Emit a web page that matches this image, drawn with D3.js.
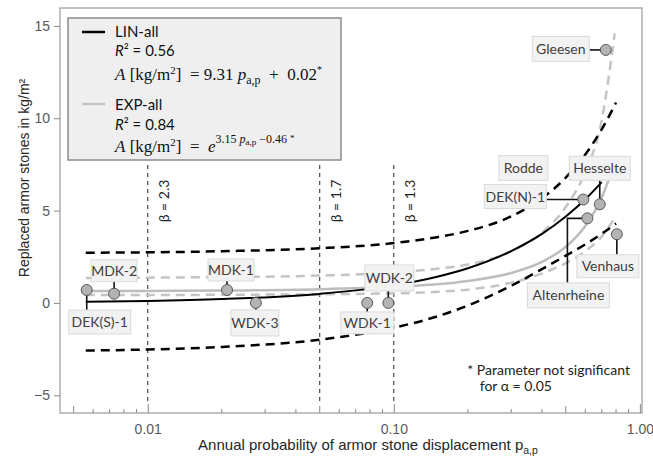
<!DOCTYPE html>
<html>
<head>
<meta charset="utf-8">
<script src="https://cdn.jsdelivr.net/npm/d3@7"></script>
<style>
body{margin:0;background:#fff;}
svg{display:block;}
</style>
</head>
<body>
<svg width="653" height="458"></svg>
<script>
// measured sites
var sites=["DEK(S)-1","MDK-2","MDK-1","WDK-3","WDK-1","WDK-2","DEK(N)-1","Hesselte","Altenrheine","Venhaus","Gleesen"];
var siteP=[0.00565,0.0073,0.021,0.0275,0.078,0.095,0.589,0.687,0.612,0.806,0.727];
var siteA=[0.7,0.5,0.7,0.0,0.0,0.0,5.6,5.34,4.58,3.72,13.7];

// fit curves
var linP=[0.0056,0.01,0.02,0.05,0.1,0.15,0.2,0.3,0.4,0.5,0.6,0.7];
var linA=[0.07,0.11,0.21,0.49,0.95,1.42,1.88,2.81,3.74,4.68,5.61,6.54];
var expP=[0.0056,0.01,0.02,0.05,0.1,0.15,0.2,0.3,0.4,0.5,0.6,0.7,0.8];
var expA=[0.64,0.65,0.67,0.74,0.87,1.01,1.19,1.62,2.22,3.04,4.17,5.71,7.82];
var linBandP=[0.0056,0.01,0.02,0.05,0.1,0.15,0.2,0.3,0.4,0.5,0.6,0.7,0.8];
var linUpper=[2.72,2.74,2.80,2.96,3.24,3.56,3.90,4.69,5.66,6.79,8.04,9.4,10.85];
var linLower=[-2.58,-2.52,-2.38,-1.99,-1.34,-0.73,-0.14,0.93,1.83,2.56,3.17,3.75,4.3];
var expBandP=[0.0056,0.01,0.02,0.05,0.1,0.15,0.2,0.3,0.4,0.5,0.6,0.7,0.79];
var expUpper=[1.35,1.37,1.40,1.48,1.65,1.85,2.08,2.8,3.8,5.2,7.1,9.9,14.6];
var expLower=[0.43,0.43,0.44,0.47,0.52,0.6,0.72,1.1,1.6,2.15,2.8,3.6,4.6];

var betaP=[0.01,0.05,0.1];
var betaLabels=["β = 2.3","β = 1.7","β = 1.3"];

var xMajor=[0.01,0.1,1];
var xMajorLabels=["0.01","0.10","1.00"];
var yTicks=[-5,0,5,10,15];

// label placement: box centre offset from point, box size, leader type
var labelLayout={
  "DEK(S)-1":{dx:13,dy:32,w:62,h:24,lead:"v"},
  "MDK-2":{dx:0,dy:-23,w:46,h:22,lead:"v"},
  "MDK-1":{dx:4,dy:-20,w:46,h:22,lead:"v"},
  "WDK-3":{dx:-1,dy:20,w:48,h:26,lead:"v"},
  "WDK-1":{dx:0,dy:20,w:53,h:22,lead:"v"},
  "WDK-2":{dx:1,dy:-25,w:49,h:26,lead:"v"},
  "DEK(N)-1":{dx:-68,dy:-3,w:62,h:24,lead:"h"},
  "Hesselte":{dx:0,dy:-36,w:61,h:24,lead:"v"},
  "Altenrheine":{dx:-19,dy:77,w:82,h:25,lead:"elbow"},
  "Venhaus":{dx:-9,dy:32,w:62,h:23,lead:"v"},
  "Gleesen":{dx:-45,dy:-1,w:57,h:25,lead:"h"}
};

var svg=d3.select('svg');
var mL=60,mR=642,mT=8,mB=413;

var x=d3.scaleLog().domain([0.0044,1.02]).range([mL,mR]);
var y=d3.scaleLinear().domain([-5.96,15.97]).range([mB,mT]);

var sans="'Liberation Sans',Arial,sans-serif";
var lab="Lato,'Open Sans',sans-serif";
var serif="'Liberation Serif','Times New Roman',serif";

// beta lines
betaP.forEach(function(p,i){
  svg.append('line')
    .attr('x1',x(p)).attr('x2',x(p))
    .attr('y1',165).attr('y2',402)
    .attr('stroke','#222').attr('stroke-width',1)
    .attr('stroke-dasharray','4,4');
  svg.append('text')
    .attr('transform','translate('+(x(p)+21)+',201) rotate(-90)')
    .attr('text-anchor','middle')
    .style('font-family',lab).style('font-size','14px').attr('fill','#222')
    .text(betaLabels[i]);
});

function curve(ps,as){
  return d3.line()
    .x(function(d,i){return x(ps[i]);})
    .y(function(d,i){return y(as[i]);})
    .curve(d3.curveMonotoneX)(as);
}

svg.append('path').attr('d',curve(expBandP,expUpper))
  .attr('fill','none').attr('stroke','#c4c4c4').attr('stroke-width',2.5).attr('stroke-dasharray','9,6');
svg.append('path').attr('d',curve(expBandP,expLower))
  .attr('fill','none').attr('stroke','#c4c4c4').attr('stroke-width',2.5).attr('stroke-dasharray','9,6');
svg.append('path').attr('d',curve(linBandP,linUpper))
  .attr('fill','none').attr('stroke','#000').attr('stroke-width',2.5).attr('stroke-dasharray','9,6');
svg.append('path').attr('d',curve(linBandP,linLower))
  .attr('fill','none').attr('stroke','#000').attr('stroke-width',2.5).attr('stroke-dasharray','9,6');
svg.append('path').attr('d',curve(expP,expA))
  .attr('fill','none').attr('stroke','#bdbdbd').attr('stroke-width',2.5);
svg.append('path').attr('d',curve(linP,linA))
  .attr('fill','none').attr('stroke','#000').attr('stroke-width',2);

// labels + leaders
function box(cx,cy,w,h,txt){
  svg.append('rect').attr('x',cx-w/2).attr('y',cy-h/2).attr('width',w).attr('height',h)
    .attr('fill','#f2f2f2').attr('stroke','#dadada').attr('stroke-width',1);
  svg.append('text').attr('x',cx).attr('y',cy+5)
    .attr('text-anchor','middle')
    .style('font-family',lab).style('font-size','14px').attr('fill','#404040')
    .text(txt);
}

sites.forEach(function(s,i){
  var px=x(siteP[i]),py=y(siteA[i]),L=labelLayout[s];
  var cx=px+L.dx,cy=py+L.dy;
  var path;
  if(L.lead=="v"){
    var ey=L.dy>0?cy-L.h/2:cy+L.h/2;
    path='M'+px+','+py+'V'+ey;
  }else if(L.lead=="h"){
    var ex=L.dx>0?cx-L.w/2:cx+L.w/2;
    path='M'+px+','+py+'H'+ex;
  }else{
    path='M'+px+','+py+'H'+(cx-1)+'V'+(cy-L.h/2);
  }
  svg.append('path').attr('d',path).attr('fill','none').attr('stroke','#111').attr('stroke-width',1.6);
  box(cx,cy,L.w,L.h,s);
});

// Rodde: label only, placed beside DEK(N)-1
var iN=sites.indexOf("DEK(N)-1");
box(x(siteP[iN])-60,y(siteA[iN])-31.5,49,25,"Rodde");

svg.selectAll('circle.site').data(sites).enter().append('circle')
  .attr('class','site')
  .attr('cx',function(d,i){return x(siteP[i]);})
  .attr('cy',function(d,i){return y(siteA[i]);})
  .attr('r',5.5)
  .attr('fill','#b3b3b3').attr('stroke','#595959').attr('stroke-width',1);

// frame
svg.append('rect').attr('x',mL).attr('y',mT).attr('width',mR-mL).attr('height',mB-mT)
  .attr('fill','none').attr('stroke','#9a9a9a').attr('stroke-width',1.2);

// y axis
var yAxis=d3.axisLeft(y).tickValues(yTicks).tickSize(6).tickPadding(4).tickFormat(d3.format('d'));
var gy=svg.append('g').attr('transform','translate('+mL+',0)').call(yAxis);
gy.select('.domain').remove();
gy.selectAll('line').attr('stroke','#8a8a8a');
gy.selectAll('text').style('font-family',sans).style('font-size','14px').attr('fill','#595959');

// x axis: major ticks + labels, minor ticks
var xAxis=d3.axisBottom(x).tickValues(xMajor).tickSize(-9).tickPadding(11)
  .tickFormat(function(d,i){return xMajorLabels[i];});
var gx=svg.append('g').attr('transform','translate(0,'+mB+')').call(xAxis);
gx.select('.domain').remove();
gx.selectAll('line').attr('stroke','#8a8a8a');
gx.selectAll('text').style('font-family',sans).style('font-size','14px').attr('fill','#595959');

var minor=[];
[0.001,0.01,0.1].forEach(function(dec){
  for(var k=2;k<=9;k++){var v=dec*k;if(v>=0.0044&&v<1)minor.push(v);}
});
var halfSet=[0.005,0.05,0.5];
var gm=svg.append('g').attr('transform','translate(0,'+mB+')');
gm.selectAll('line').data(minor).enter().append('line')
  .attr('x1',function(d){return x(d);}).attr('x2',function(d){return x(d);})
  .attr('y1',0)
  .attr('y2',function(d){return halfSet.some(function(h){return Math.abs(h-d)<1e-9;})?-7:-4;})
  .attr('stroke','#8a8a8a');

// axis titles
var xt=svg.append('text').attr('x',368).attr('y',450).attr('text-anchor','middle')
  .style('font-family',sans).style('font-size','15px').attr('fill','#262626');
xt.append('tspan').text('Annual probability of armor stone displacement p');
xt.append('tspan').attr('dy',4).style('font-size','10.5px').text('a,p');

svg.append('text').attr('transform','translate(29,178) rotate(-90)').attr('text-anchor','middle')
  .style('font-family',sans).style('font-size','14px').attr('fill','#262626')
  .text('Replaced armor stones in kg/m²');

// footnote
svg.append('text').attr('x',630).attr('y',375).attr('text-anchor','end')
  .style('font-family',lab).style('font-size','14px').attr('fill','#222')
  .text('* Parameter not significant');
svg.append('text').attr('x',552).attr('y',391).attr('text-anchor','end')
  .style('font-family',lab).style('font-size','14px').attr('fill','#222')
  .text('for α = 0.05');

// legend
var lg=svg.append('g');
lg.append('rect').attr('x',68).attr('y',18).attr('width',273).attr('height',142)
  .attr('fill','#efefef').attr('stroke','#8c8c8c').attr('stroke-width',1.5);
lg.append('line').attr('x1',82).attr('x2',105).attr('y1',32).attr('y2',32).attr('stroke','#000').attr('stroke-width',2.5);
lg.append('line').attr('x1',82).attr('x2',105).attr('y1',104).attr('y2',104).attr('stroke','#c4c4c4').attr('stroke-width',2.5);

function lgText(yy,name){
  lg.append('text').attr('x',115).attr('y',yy)
    .style('font-family',lab).style('font-size','15px').attr('fill','#111').text(name);
}
function lgR2(yy,val){
  var t=lg.append('text').attr('x',115).attr('y',yy)
    .style('font-family',lab).style('font-size','15px').attr('fill','#111');
  t.append('tspan').style('font-style','italic').text('R');
  t.append('tspan').text('² = '+val);
}
lgText(37,'LIN-all');
lgR2(56,'0.56');
lgText(110,'EXP-all');
lgR2(130,'0.84');

// LIN formula
var f1=lg.append('text').attr('x',115).attr('y',80).attr('xml:space','preserve')
  .style('font-family',serif).style('font-size','17px').attr('fill','#111');
f1.append('tspan').style('font-style','italic').text('A');
f1.append('tspan').text(' [kg/m');
f1.append('tspan').attr('dy',-6).style('font-size','11px').text('2');
f1.append('tspan').attr('dy',6).text(']  = 9.31 ');
f1.append('tspan').style('font-style','italic').text('p');
f1.append('tspan').attr('dy',4).style('font-size','12px').text('a,p');
f1.append('tspan').attr('dy',-4).text('  +  0.02');
f1.append('tspan').attr('dy',-7).style('font-size','10px').text('*');

// EXP formula
var f2=lg.append('text').attr('x',115).attr('y',152).attr('xml:space','preserve')
  .style('font-family',serif).style('font-size','17px').attr('fill','#111');
f2.append('tspan').style('font-style','italic').text('A');
f2.append('tspan').text(' [kg/m');
f2.append('tspan').attr('dy',-6).style('font-size','11px').text('2');
f2.append('tspan').attr('dy',6).text(']  =  ');
f2.append('tspan').style('font-style','italic').text('e');
f2.append('tspan').attr('dy',-9).style('font-size','12px').text('3.15 ');
f2.append('tspan').style('font-size','12px').style('font-style','italic').text('p');
f2.append('tspan').attr('dy',2).style('font-size','9px').text('a,p');
f2.append('tspan').attr('dy',-2).style('font-size','12px').text(' −0.46 ');
f2.append('tspan').attr('dy',-2).style('font-size','9px').text('*');
</script>
</body>
</html>
